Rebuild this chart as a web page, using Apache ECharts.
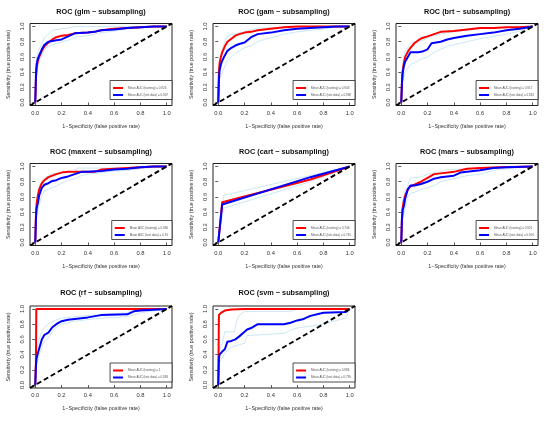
<!DOCTYPE html>
<html><head><meta charset="utf-8">
<script src="https://cdn.jsdelivr.net/npm/echarts@6/dist/echarts.min.js"></script>
<style>html,body{margin:0;padding:0;background:#fff}#c{width:550px;height:421px}</style>
</head><body><div id="c"></div>
<script>
// ---- data: each curve is a list of [1-specificity, sensitivity] points ----
const models = ['glm','gam','brt','maxent','cart','mars','rf','svm'];
const aucTrain = ['0.926','0.943','0.917','0.936','0.746','0.921','1','0.986'];
const aucTest  = ['0.907','0.898','0.861','0.91','0.745','0.901','0.893','0.795'];
const xTicks = [0,0.2,0.4,0.6,0.8,1.0];
const yTicks = [0,0.2,0.4,0.6,0.8,1.0];
const diagonal = [[-0.04,-0.04],[1.04,1.04]];

const glmTrain = [[0,0],[0.005,0.3],[0.01,0.45],[0.02,0.55],[0.03,0.6],[0.05,0.68],[0.07,0.74],[0.1,0.79],[0.13,0.83],[0.16,0.86],[0.2,0.88],[0.25,0.89],[0.3,0.91],[0.4,0.92],[0.45,0.93],[0.5,0.95],[0.6,0.97],[0.7,0.98],[0.8,0.99],[0.9,1],[1,1]];
const glmTest  = [[0,0],[0.005,0.35],[0.01,0.5],[0.02,0.58],[0.03,0.62],[0.05,0.7],[0.07,0.76],[0.1,0.8],[0.13,0.81],[0.16,0.82],[0.2,0.83],[0.25,0.87],[0.3,0.91],[0.4,0.92],[0.45,0.93],[0.5,0.95],[0.6,0.96],[0.7,0.98],[0.8,0.99],[0.9,1],[1,1]];
const glmUpper = [[0,0],[0.005,0.45],[0.01,0.6],[0.02,0.65],[0.03,0.7],[0.05,0.78],[0.07,0.85],[0.1,0.9],[0.13,0.95],[0.16,0.96],[0.2,0.97],[0.25,0.98],[0.3,1],[1,1]];
const glmLower = [[0,0],[0.005,0.25],[0.01,0.38],[0.02,0.48],[0.03,0.55],[0.05,0.62],[0.07,0.7],[0.1,0.74],[0.13,0.76],[0.16,0.78],[0.2,0.8],[0.25,0.82],[0.3,0.86],[0.4,0.88],[0.5,0.92],[0.6,0.94],[0.7,0.97],[0.8,0.98],[0.9,0.99],[1,1]];

const gamTrain = [[0,0],[0.005,0.4],[0.01,0.52],[0.02,0.6],[0.03,0.66],[0.05,0.74],[0.07,0.8],[0.1,0.84],[0.13,0.88],[0.16,0.9],[0.2,0.92],[0.25,0.93],[0.3,0.95],[0.35,0.96],[0.4,0.97],[0.5,0.99],[0.6,1],[1,1]];
const gamTest  = [[0,0],[0.005,0.3],[0.01,0.42],[0.02,0.5],[0.03,0.55],[0.05,0.62],[0.07,0.68],[0.1,0.72],[0.13,0.75],[0.16,0.77],[0.2,0.79],[0.25,0.86],[0.3,0.9],[0.4,0.92],[0.5,0.95],[0.6,0.97],[0.7,0.98],[0.8,0.99],[0.9,1],[1,1]];
const gamUpper = [[0,0],[0.005,0.4],[0.01,0.55],[0.02,0.62],[0.03,0.7],[0.05,0.8],[0.07,0.88],[0.1,0.9],[0.13,0.9],[0.16,0.92],[0.2,0.93],[0.25,0.96],[0.3,0.98],[0.5,0.99],[0.6,1],[1,1]];
const gamLower = [[0,0],[0.005,0.2],[0.01,0.3],[0.02,0.35],[0.03,0.4],[0.05,0.48],[0.07,0.55],[0.1,0.6],[0.13,0.65],[0.16,0.68],[0.2,0.72],[0.25,0.75],[0.3,0.8],[0.35,0.83],[0.4,0.85],[0.5,0.9],[0.6,0.93],[0.7,0.95],[0.8,0.97],[0.9,0.99],[1,1]];

const brtTrain = [[0,0],[0.005,0.25],[0.01,0.4],[0.02,0.52],[0.03,0.6],[0.05,0.67],[0.07,0.72],[0.1,0.78],[0.13,0.82],[0.16,0.85],[0.2,0.87],[0.25,0.9],[0.3,0.93],[0.4,0.94],[0.5,0.96],[0.6,0.98],[0.7,0.98],[0.8,0.99],[0.9,0.99],[1,1]];
const brtTest  = [[0,0],[0.005,0.25],[0.01,0.38],[0.02,0.48],[0.03,0.54],[0.05,0.6],[0.07,0.66],[0.1,0.66],[0.13,0.66],[0.16,0.67],[0.2,0.7],[0.23,0.78],[0.3,0.8],[0.35,0.83],[0.4,0.85],[0.5,0.88],[0.6,0.9],[0.7,0.92],[0.8,0.95],[0.9,0.97],[1,1]];
const brtUpper = [[0,0],[0.005,0.35],[0.01,0.5],[0.02,0.6],[0.03,0.68],[0.05,0.72],[0.07,0.78],[0.1,0.8],[0.13,0.8],[0.16,0.82],[0.2,0.85],[0.25,0.88],[0.3,0.9],[0.35,0.92],[0.4,0.93],[0.5,0.95],[0.6,0.97],[0.7,0.98],[0.8,0.99],[0.9,0.99],[1,1]];
const brtLower = [[0,0],[0.005,0.15],[0.01,0.25],[0.02,0.35],[0.03,0.4],[0.05,0.45],[0.07,0.5],[0.1,0.52],[0.13,0.55],[0.16,0.58],[0.2,0.6],[0.25,0.66],[0.3,0.7],[0.35,0.74],[0.4,0.76],[0.5,0.8],[0.6,0.84],[0.7,0.87],[0.8,0.9],[0.9,0.94],[1,1]];

const maxentTrain = [[0,0],[0.005,0.35],[0.01,0.5],[0.02,0.62],[0.03,0.7],[0.05,0.78],[0.07,0.82],[0.1,0.86],[0.13,0.88],[0.16,0.9],[0.2,0.92],[0.25,0.93],[0.45,0.93],[0.5,0.96],[0.6,0.97],[0.7,0.98],[0.8,0.99],[0.9,1],[1,1]];
const maxentTest  = [[0,0],[0.005,0.3],[0.01,0.45],[0.02,0.52],[0.03,0.62],[0.05,0.72],[0.07,0.76],[0.1,0.78],[0.13,0.81],[0.16,0.82],[0.2,0.85],[0.25,0.87],[0.3,0.9],[0.35,0.93],[0.4,0.93],[0.5,0.94],[0.6,0.96],[0.7,0.97],[0.8,0.99],[0.9,1],[1,1]];
const maxentUpper = [[0,0],[0.005,0.45],[0.01,0.55],[0.02,0.65],[0.03,0.72],[0.05,0.8],[0.07,0.85],[0.1,0.88],[0.13,0.9],[0.16,0.91],[0.2,0.92],[0.3,0.93],[0.32,0.98],[0.7,0.98],[0.75,1],[1,1]];
const maxentLower = [[0,0],[0.005,0.2],[0.01,0.32],[0.02,0.42],[0.03,0.5],[0.05,0.62],[0.07,0.68],[0.1,0.7],[0.13,0.72],[0.16,0.74],[0.2,0.78],[0.25,0.82],[0.3,0.84],[0.35,0.88],[0.4,0.9],[0.5,0.92],[0.6,0.94],[0.7,0.95],[0.8,0.97],[0.9,0.99],[1,1]];

const cartTrain = [[0,0],[0.03,0.53],[0.7,0.83],[1,1]];
const cartTest  = [[0,0],[0.03,0.5],[0.7,0.86],[1,1]];
const cartUpper = [[0,0],[0.04,0.62],[1,1]];
const cartLower = [[0,0],[0.04,0.45],[0.7,0.8],[1,1]];

const marsTrain = [[0,0],[0.005,0.3],[0.01,0.45],[0.02,0.55],[0.03,0.62],[0.05,0.7],[0.07,0.74],[0.1,0.76],[0.15,0.8],[0.2,0.85],[0.25,0.9],[0.3,0.91],[0.4,0.93],[0.5,0.97],[0.6,0.98],[0.75,0.99],[1,1]];
const marsTest  = [[0,0],[0.005,0.3],[0.01,0.42],[0.02,0.48],[0.03,0.58],[0.05,0.7],[0.07,0.75],[0.1,0.75],[0.15,0.77],[0.2,0.8],[0.25,0.84],[0.3,0.86],[0.4,0.88],[0.45,0.92],[0.5,0.93],[0.6,0.95],[0.7,0.98],[0.8,0.99],[1,1]];
const marsUpper = [[0,0],[0.005,0.4],[0.01,0.55],[0.03,0.68],[0.05,0.75],[0.07,0.85],[0.15,0.86],[0.2,0.9],[0.3,0.93],[0.35,0.96],[0.5,0.97],[0.7,0.99],[1,1]];
const marsLower = [[0,0],[0.005,0.2],[0.01,0.3],[0.03,0.45],[0.05,0.6],[0.07,0.65],[0.1,0.66],[0.15,0.7],[0.2,0.72],[0.25,0.75],[0.3,0.8],[0.4,0.84],[0.5,0.88],[0.6,0.9],[0.7,0.95],[0.8,0.97],[1,1]];

const rfTrain = [[0,0],[0.005,0.3],[0.008,1],[1,1]];
const rfTest  = [[0,0],[0.005,0.25],[0.01,0.35],[0.02,0.42],[0.03,0.48],[0.05,0.6],[0.07,0.66],[0.1,0.69],[0.13,0.76],[0.16,0.8],[0.2,0.84],[0.25,0.86],[0.3,0.87],[0.4,0.89],[0.5,0.92],[0.7,0.93],[0.75,0.97],[0.8,0.98],[0.9,0.99],[1,1]];
const rfUpper = [[0,0],[0.005,0.35],[0.01,0.45],[0.03,0.6],[0.05,0.7],[0.07,0.76],[0.1,0.8],[0.15,0.85],[0.2,0.88],[0.3,0.9],[0.5,0.93],[0.7,0.95],[0.75,0.99],[1,1]];
const rfLower = [[0,0],[0.005,0.15],[0.01,0.25],[0.03,0.4],[0.05,0.5],[0.07,0.58],[0.1,0.62],[0.15,0.75],[0.2,0.8],[0.3,0.84],[0.5,0.88],[0.7,0.9],[0.8,0.95],[1,1]];

const svmTrain = [[0,0],[0.005,0.92],[0.02,0.95],[0.05,0.98],[0.1,0.995],[0.2,1],[1,1]];
const svmTest  = [[0,0],[0.005,0.35],[0.01,0.4],[0.03,0.44],[0.05,0.47],[0.07,0.57],[0.1,0.58],[0.13,0.6],[0.16,0.64],[0.2,0.7],[0.22,0.73],[0.25,0.75],[0.3,0.8],[0.5,0.8],[0.55,0.82],[0.6,0.85],[0.65,0.87],[0.7,0.91],[0.8,0.95],[0.97,0.96],[1,1]];
const svmUpper = [[0,0],[0.005,0.45],[0.03,0.55],[0.05,0.7],[0.12,0.7],[0.15,0.9],[0.2,0.97],[0.55,0.97],[0.6,1],[1,1]];
const svmLower = [[0,0],[0.01,0.3],[0.05,0.42],[0.1,0.5],[0.2,0.55],[0.22,0.65],[0.5,0.68],[0.55,0.72],[0.6,0.75],[0.8,0.8],[0.9,0.85],[0.97,0.88],[1,1]];

const trainCurves = [glmTrain,gamTrain,brtTrain,maxentTrain,cartTrain,marsTrain,rfTrain,svmTrain];
const testCurves  = [glmTest,gamTest,brtTest,maxentTest,cartTest,marsTest,rfTest,svmTest];
const upperCurves = [glmUpper,gamUpper,brtUpper,maxentUpper,cartUpper,marsUpper,rfUpper,svmUpper];
const lowerCurves = [glmLower,gamLower,brtLower,maxentLower,cartLower,marsLower,rfLower,svmLower];

// ---- layout ----
const colLeft = [30, 213, 396];
const rowTop = [23.5, 163.5, 306];
const titleY = [12, 152, 293];
const GW = 142, GH = 82;
const FONT = '"Liberation Sans", Arial, Helvetica, sans-serif';

const grid = [], xAxis = [], yAxis = [], series = [], legend = [], graphic = [];
models.forEach((m, i) => {
  const c = i % 3, r = Math.floor(i / 3);
  const L = colLeft[c], T = rowTop[r];
  grid.push({left: L, top: T, width: GW, height: GH, show: true, borderColor: '#222', borderWidth: 1, backgroundColor: 'transparent', containLabel: false});
  xAxis.push({type: 'value', gridIndex: i, min: -0.04, max: 1.04,
    axisLine: {show: false}, splitLine: {show: false},
    axisTick: {show: true, inside: false, length: 3, customValues: xTicks, lineStyle: {color: '#333', width: 0.8}},
    axisLabel: {customValues: xTicks, formatter: v => v.toFixed(1), fontSize: 5.8, color: '#333', margin: 4.5, fontFamily: FONT},
    name: '1\u2212Specificity (false positive rate)', nameLocation: 'middle', nameGap: 18.5,
    nameTextStyle: {fontSize: 5.4, color: '#333', fontFamily: FONT}});
  yAxis.push({type: 'value', gridIndex: i, min: -0.04, max: 1.04,
    axisLine: {show: false}, splitLine: {show: false},
    axisTick: {show: true, inside: false, length: 3, customValues: yTicks, lineStyle: {color: '#333', width: 0.8}},
    axisLabel: {customValues: yTicks, formatter: v => v.toFixed(1), fontSize: 5.8, color: '#333', margin: 5, rotate: 90, fontFamily: FONT},
    name: 'Sensitivity (true positive rate)', nameLocation: 'middle', nameGap: 18.5,
    nameTextStyle: {fontSize: 5.4, color: '#333', fontFamily: FONT}});
  const trName = 'Mean AUC (training) = ' + aucTrain[i];
  const teName = 'Mean AUC (test data) = ' + aucTest[i];
  const base = {type: 'line', xAxisIndex: i, yAxisIndex: i, showSymbol: false, symbol: 'none', silent: true, animation: false};
  series.push(Object.assign({}, base, {name: 'upper' + i, data: upperCurves[i], lineStyle: {color: '#b5dcef', width: 0.7}, z: 2}));
  series.push(Object.assign({}, base, {name: 'lower' + i, data: lowerCurves[i], lineStyle: {color: '#b5dcef', width: 0.7}, z: 2}));
  series.push(Object.assign({}, base, {name: trName, data: trainCurves[i], color: '#ff0000', lineStyle: {color: '#ff0000', width: 2}, z: 3}));
  series.push(Object.assign({}, base, {name: teName, data: testCurves[i], color: '#0000ff', lineStyle: {color: '#0000ff', width: 2}, z: 4}));
  series.push(Object.assign({}, base, {name: 'diag' + i, data: diagonal, lineStyle: {color: '#000', width: 2, type: [5, 3]}, z: 5}));
  legend.push({data: [trName, teName], orient: 'vertical', right: 550 - (L + GW), top: T + 57,
    itemWidth: 10, itemHeight: 2, icon: 'rect', itemGap: 4,
    padding: [6, 4, 3, 3], borderColor: '#222', borderWidth: 0.8, backgroundColor: '#fff',
    textStyle: {fontSize: 3, color: '#555', fontFamily: FONT}, selectedMode: false, z: 10});
  graphic.push({type: 'text', x: L + GW / 2, y: titleY[r],
    style: {text: 'ROC (' + m + ' \u2212 subsampling)', font: 'bold 7.3px ' + FONT, fill: '#111',
      textAlign: 'center', textVerticalAlign: 'middle', align: 'center', verticalAlign: 'middle'}});
});

const chart = echarts.init(document.getElementById('c'), null, {renderer: 'canvas'});
chart.setOption({animation: false, backgroundColor: '#fff', grid, xAxis, yAxis, series, legend, graphic});
</script></body></html>
